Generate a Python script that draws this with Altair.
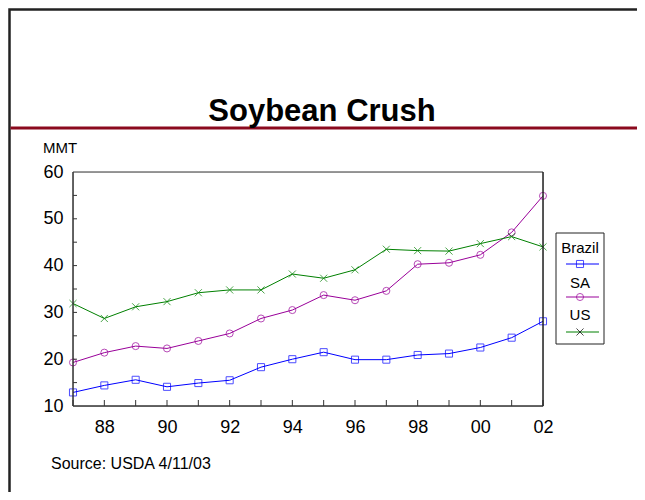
import altair as alt
import pandas as pd

years = list(range(1987, 2003))
brazil = [12.9, 14.4, 15.6, 14.1, 14.9, 15.5, 18.3, 20.0, 21.5, 19.9, 19.9, 20.9, 21.2, 22.5, 24.6, 28.1]
sa = [19.3, 21.4, 22.8, 22.3, 23.9, 25.5, 28.7, 30.5, 33.7, 32.6, 34.6, 40.3, 40.6, 42.3, 47.1, 54.9]
us = [31.9, 28.7, 31.2, 32.3, 34.2, 34.8, 34.8, 38.2, 37.3, 39.1, 43.5, 43.2, 43.1, 44.7, 46.2, 44.0]
series_names = ["Brazil", "SA", "US"]
x_label_years = [1988, 1990, 1992, 1994, 1996, 1998, 2000, 2002]
y_label_values = [10, 20, 30, 40, 50, 60]
y_tick_values = [15, 20, 25, 30, 35, 40, 45, 50, 55]

FONT = "Liberation Sans"
W, H = 470, 234
line_colors = ["#0000FF", "#990099", "#008000"]
marker_colors = ["#0000FF", "#990099", "#000000"]
x_path = "M-1,-1L1,1M-1,1L1,-1"
shapes = ["square", "circle", x_path]

rows = []
for name, vals in zip(series_names, [brazil, sa, us]):
    for y, v in zip(years, vals):
        rows.append({"year": y, "value": v, "series": name})
df = pd.DataFrame(rows)

xscale = alt.Scale(domain=[1987, 2002], nice=False, zero=False)
yscale = alt.Scale(domain=[10, 60], nice=False, zero=False)

base = alt.Chart(df)
lines = base.mark_line(strokeWidth=1).encode(
    x=alt.X("year:Q", scale=xscale,
            axis=alt.Axis(values=x_label_years, title=None, ticks=False, domain=False, grid=False,
                          labelExpr="slice('0' + (datum.value % 100), -2)",
                          labelFont=FONT, labelFontSize=18, labelColor="#000",
                          labelPadding=12, labelFlush=False)),
    y=alt.Y("value:Q", scale=yscale,
            axis=alt.Axis(values=y_label_values, title=None, ticks=False, domain=False, grid=False,
                          labelFont=FONT, labelFontSize=18, labelColor="#000", labelPadding=10,
                          labelFlush=False)),
    color=alt.Color("series:N", scale=alt.Scale(domain=series_names, range=line_colors), legend=None),
    detail="series:N",
)
points = base.mark_point(filled=False, strokeWidth=1, size=50).encode(
    x=alt.X("year:Q", scale=xscale),
    y=alt.Y("value:Q", scale=yscale),
    color=alt.Color("series:N", scale=alt.Scale(domain=series_names, range=marker_colors), legend=None),
    shape=alt.Shape("series:N", scale=alt.Scale(domain=series_names, range=shapes), legend=None),
)

# inward ticks via scales
xt = alt.Chart(pd.DataFrame({"year": years})).mark_rule(color="#333", strokeWidth=1).encode(
    x=alt.X("year:Q", scale=xscale), y=alt.value(H), y2=alt.value(H - 6))
yt = alt.Chart(pd.DataFrame({"v": y_tick_values})).mark_rule(color="#333", strokeWidth=1).encode(
    y=alt.Y("v:Q", scale=yscale), x=alt.value(0), x2=alt.value(4))

dummy = pd.DataFrame({"a": [0]})
def rule(x, x2, y, y2, color, sw):
    return alt.Chart(dummy).mark_rule(color=color, strokeWidth=sw).encode(
        x=alt.value(x), x2=alt.value(x2), y=alt.value(y), y2=alt.value(y2))
def band(x, x2, y, y2, color):
    return alt.Chart(dummy).mark_rect(color=color).encode(
        x=alt.value(x), x2=alt.value(x2), y=alt.value(y), y2=alt.value(y2))
def text(t, x, y, size, bold=False, align="left", baseline="middle"):
    return alt.Chart(dummy).mark_text(text=t, font=FONT, fontSize=size, fontWeight="bold" if bold else "normal",
                                      align=align, baseline=baseline, color="#000").encode(
        x=alt.value(x), y=alt.value(y))

frame = [
    rule(0, W, 0, 0, "#777", 1.5),
    rule(0, 0, 0, H, "#333", 1.5),
    rule(W, W, 0, H, "#222", 1.5),
    rule(0, W, H, H, "#333", 1.5),
]

slide_frame = alt.Chart(dummy).mark_rect(fill="transparent", stroke="#222", strokeWidth=2.5).encode(
    x=alt.value(-63.5), x2=alt.value(900), y=alt.value(-162.5), y2=alt.value(900))

deco = [
    slide_frame,
    band(-62.5, 564, -45.5, -42.5, "#8B0A1E"),
    text("Soybean Crush", 249, -51, 31, bold=True, align="center", baseline="alphabetic"),
    text("MMT", -30, -24, 15),
    text("Source: USDA 4/11/03", -22, 297, 16, baseline="alphabetic"),
]

# legend
lx = 507
legend_box = alt.Chart(dummy).mark_rect(fill="white", stroke="#222", strokeWidth=1).encode(
    x=alt.value(483), x2=alt.value(531), y=alt.value(61), y2=alt.value(172))
leg = [legend_box]
for i, (name, yt_, yl) in enumerate(zip(series_names, [76, 111, 143], [92, 125, 160])):
    leg.append(text(name, lx, yt_, 15, align="center"))
    leg.append(rule(493, 526, yl, yl, line_colors[i], 1))
    leg.append(alt.Chart(dummy).mark_point(filled=False, strokeWidth=1, size=50, shape=shapes[i],
                                           color=marker_colors[i]).encode(x=alt.value(lx), y=alt.value(yl)))

chart = alt.layer(lines, points, xt, yt, *frame, *deco, *leg).properties(
    width=W, height=H,
    autosize=alt.AutoSizeParams(type="none"),
    padding={"left": 65, "top": 164, "right": 94, "bottom": 86},
).configure_view(stroke=None).configure(background="white")

chart.save("out.html", embed_options={"renderer": "svg", "actions": False})
